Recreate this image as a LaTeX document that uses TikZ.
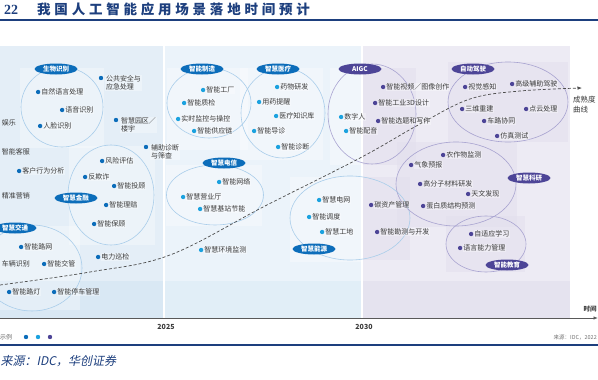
\documentclass[tikz,border=0pt]{standalone}
\usepackage{fontspec}
\setmainfont{Noto Sans CJK SC}
\newfontfamily\numfont{Liberation Serif}
\newfontfamily\ttlfont[LetterSpace=28]{Noto Sans CJK SC}
\newfontfamily\srcfont[FakeSlant=0.2]{Noto Sans CJK SC}
\usetikzlibrary{positioning,calc,shapes.geometric,arrows.meta}

\definecolor{navy}{HTML}{1D3F7E}
\definecolor{tagA}{HTML}{0C6DBA}
\definecolor{tagP}{HTML}{4D4597}
\definecolor{dotB}{HTML}{1CA2DF}
\definecolor{ringA}{HTML}{A9CDEA}
\definecolor{ringP}{HTML}{A8A3D0}
\definecolor{txt}{HTML}{3A3A3A}
\definecolor{panA}{HTML}{E4EEF7}
\definecolor{panAlo}{HTML}{D9E8F4}
\definecolor{panB}{HTML}{EBF3FA}
\definecolor{panBlo}{HTML}{E1EEF7}
\definecolor{panC}{HTML}{EDEBF4}
\definecolor{panClo}{HTML}{E5E3EF}
\definecolor{patchC}{HTML}{E3E0EE}

\tikzset{
  itm/.style={anchor=west, inner sep=0.6pt, text=txt, font=\fontsize{7}{8}\selectfont,
    fill=white, fill opacity=.3, text opacity=1, label distance=1.2pt},
  spotA/.style={circle, fill=tagA, fill opacity=1, minimum size=4.4pt, inner sep=0pt},
  spotB/.style={spotA, fill=dotB},
  spotP/.style={spotA, fill=tagP},
  ia/.style={itm, label={[spotA]left:}},
  ib/.style={itm, label={[spotB]left:}},
  ip/.style={itm, label={[spotP]left:}},
  bare/.style={anchor=west, inner sep=0.6pt, text=txt, font=\fontsize{7}{8}\selectfont},
  ringA/.style={ellipse, draw=ringA, line width=.6pt, inner sep=0pt},
  ringP/.style={ringA, draw=ringP},
  tagA/.style={ellipse, fill=tagA, text=white, font=\bfseries\fontsize{6.5}{7}\selectfont,
    minimum width=43pt, minimum height=11pt, inner sep=0pt},
  tagP/.style={tagA, fill=tagP},
  patch/.style={fill=white, fill opacity=.3},
  patchP/.style={fill=patchC, fill opacity=.6},
  trend/.style={densely dashed, line width=.7pt, draw=black!70, -{Latex[length=4.5pt,width=3.5pt]}},
}

\begin{document}
\begin{tikzpicture}[x=1pt, y=-1pt, every node/.style={inner sep=0pt}]
  \useasboundingbox (0,0) rectangle (598,380);
  \fill[white] (0,0) rectangle (598,380);

  % title
  \node[anchor=west, text=navy, font=\numfont\bfseries\fontsize{14}{15}\selectfont] (num) at (4,9.5) {22};
  \node[anchor=west, text=navy, font=\ttlfont\bfseries\fontsize{13.5}{15}\selectfont] (ttl) at (37,9.5) {我国人工智能应用场景落地时间预计};
  \draw[navy, line width=1.3pt] (0,20) -- (598,20);

  % panels
  \fill[panA] (0,46) rectangle (164,318);
  \fill[panAlo] (0,281) rectangle (164,318);
  \fill[panB] (164,46) rectangle (362,318);
  \fill[panBlo] (164,281) rectangle (362,318);
  \fill[panC] (362,46) rectangle (570,318);
  \fill[panClo] (362,281) rectangle (570,318);
  \path[patch] (20,68) rectangle (104,148);
  \path[patch] (69,146) rectangle (155,245);
  \path[patch] (0,226) rectangle (80,310);
  \path[patch] (167,68) rectangle (248,150);
  \path[patch] (240,68) rectangle (323,160);
  \path[patch] (166,165) rectangle (262,226);
  \path[patch] (290,177) rectangle (362,262);
  \path[patch] (330,68) rectangle (362,165);
  \path[patchP] (362,68) rectangle (416,165);
  \path[patchP] (448,62) rectangle (568,142);
  \path[patchP] (397,142) rectangle (517,227);
  \path[patchP] (446,216) rectangle (525,272);
  \path[patchP] (362,177) rectangle (410,260);
  \draw[white, line width=1.2pt] (164,46) -- (164,318);
  \draw[white, line width=1.2pt] (362,46) -- (362,318);

  % rings
  \node[ringA, minimum width=82pt, minimum height=80pt] (bioR) at (62,107) {};
  \node[ringA, minimum width=86pt, minimum height=100pt] (finR) at (111,195) {};
  \node[ringA, minimum width=100pt, minimum height=86pt] (trfR) at (32,268) {};
  \node[ringA, minimum width=84pt, minimum height=70pt] (mfgR) at (209,103) {};
  \node[ringA, minimum width=84pt, minimum height=90pt] (medR) at (283,113) {};
  \node[ringA, minimum width=97pt, minimum height=60pt] (telR) at (215,195) {};
  \node[ringA, minimum width=120pt, minimum height=84pt] (engR) at (350,218) {};
  \node[ringP, minimum width=88pt, minimum height=100pt] (aigcR) at (372,114) {};
  \node[ringP, minimum width=120pt, minimum height=80pt] (adsR) at (508,102) {};
  \node[ringP, minimum width=120pt, minimum height=84pt] (sciR) at (456,184) {};
  \node[ringP, minimum width=80pt, minimum height=56pt] (eduR) at (486,244) {};

  % maturity curve
  \coordinate (cs) at (0,285);
  \coordinate (ce) at (582,88);
  \draw[trend] plot[smooth, tension=.6] coordinates {(cs) (90,272) (170,255) (265,206) (360,158) (420,124) (470,99) (520,91) (ce)};
  \node[anchor=north west, align=left, text=txt, font=\fontsize{7.5}{10}\selectfont] (curveTxt) at (573,96) {成熟度\\曲线};

  % panel 1
  \node[ia] (zryy) at (40.5,92) {自然语言处理};
  \node[ia] (yysb) at (64.5,110) {语音识别};
  \node[ia] (rlsb) at (42.5,126) {人脸识别};
  \node[spotA] (ggS) at (101,78) {};
  \node[itm, align=left, right=1.8pt of ggS, yshift=-5pt] (ggaq) {公共安全与\\应急处理};
  \node[spotA] (yqS) at (116,120) {};
  \node[itm, align=left, right=1.8pt of yqS, yshift=-5pt] (zhyq) {智慧园区／\\楼宇};
  \node[spotA] (fzS) at (146,147) {};
  \node[itm, align=left, right=1.8pt of fzS, yshift=-5pt] (fzzd) {辅助诊断\\与筛查};
  \node[bare] (yl) at (1,123) {娱乐};
  \node[bare] (zncs) at (1,152) {智能客服};
  \node[ia] (khxw) at (21.5,171) {客户行为分析};
  \node[bare] (jzyx) at (1,196) {精准营销};
  \node[ia] (fxpg) at (104.5,161) {风险评估};
  \node[ia] (fqz) at (87.5,177) {反欺诈};
  \node[ia] (zntg) at (116.5,186) {智能投顾};
  \node[ia] (znlp) at (108.5,205) {智能理赔};
  \node[ia] (znbg) at (96.5,224) {智能保顾};
  \node[ia] (znlw) at (23.5,247) {智能路网};
  \node[bare] (clsb) at (1,264) {车辆识别};
  \node[ia] (znjg) at (46.5,264) {智能交管};
  \node[ia] (znld) at (11.5,292) {智能路灯};
  \node[ia] (zntc) at (56.5,292) {智能停车管理};
  \node[ia] (dlxj) at (100.5,257) {电力巡检};

  % panel 2
  \node[ib] (zngc) at (205.5,90) {智能工厂};
  \node[ib] (znzj) at (186.5,103) {智能质检};
  \node[ib] (ssjk) at (180.5,119) {实时监控与操控};
  \node[ib] (zngy) at (196.5,131) {智能供应链};
  \node[ib] (ywyf) at (279.5,87) {药物研发};
  \node[ib] (yytx) at (261.5,102) {用药提醒};
  \node[ib] (ylzs) at (278.5,116) {医疗知识库};
  \node[ib] (zndz) at (256.5,131) {智能导诊};
  \node[ib] (znzd) at (280.5,147) {智能诊断};
  \node[ib] (znwl) at (221.5,182) {智能网络};
  \node[ib] (zhyy) at (185.5,197) {智慧营业厅};
  \node[ib] (jzjn) at (202.5,209) {智慧基站节能};
  \node[ib] (hjjc) at (203.5,250) {智慧环境监测};
  \node[ib] (zhdw) at (321.5,200) {智慧电网};
  \node[ib] (znds) at (311.5,217) {智能调度};
  \node[ib] (zhgd) at (324.5,232) {智慧工地};
  \node[ib] (szr) at (343.5,117) {数字人};
  \node[ib] (znpy) at (348.5,131) {智能配音};

  % panel 3
  \node[ip] (spcz) at (385.5,87) {智能视频／图像创作};
  \node[ip] (gysj) at (377.5,103) {智能工业3D设计};
  \node[ip] (xtxz) at (380.5,121) {智能选题和写作};
  \node[ip] (tzcg) at (373.5,205) {碳资产管理};
  \node[ip] (kcky) at (379.5,232) {智能勘测与开发};
  \node[ip] (sjgz) at (467.5,87) {视觉感知};
  \node[ip] (gjfz) at (514.5,84) {高级辅助驾驶};
  \node[ip] (swcj) at (464.5,109) {三维重建};
  \node[ip] (dycl) at (528.5,109) {点云处理};
  \node[ip] (clxt) at (486.5,121) {车路协同};
  \node[ip] (fzcs) at (499.5,136) {仿真测试};
  \node[ip] (nzjc) at (445.5,155) {农作物监测};
  \node[ip] (qxyb) at (413.5,165) {气象预报};
  \node[ip] (gfcl) at (422.5,184) {高分子材料研发};
  \node[ip] (twfx) at (470.5,194) {天文发现};
  \node[ip] (dbzj) at (425.5,206) {蛋白质结构预测};
  \node[ip] (zsyx) at (473.5,234) {自适应学习};
  \node[ip] (yynl) at (462.5,248) {语言能力管理};

  % tags
  \node[tagA] (bio) at (56,69) {生物识别};
  \node[tagA] (fin) at (76,198) {智慧金融};
  \node[tagA] (trf) at (15,228) {智慧交通};
  \node[tagA] (mfg) at (202,69) {智能制造};
  \node[tagA] (med) at (278,69) {智慧医疗};
  \node[tagA] (tel) at (224,163) {智慧电信};
  \node[tagA] (eng) at (314,249) {智慧能源};
  \node[tagP] (aigc) at (360,69) {AIGC};
  \node[tagP] (ads) at (473,69) {自动驾驶};
  \node[tagP] (sci) at (529,178) {智慧科研};
  \node[tagP] (edu) at (507,265) {智能教育};

  % time axis
  \coordinate (ax0) at (0,318);
  \coordinate (ax1) at (598,318);
  \draw[black!65, line width=.8pt, -{Latex[length=4.5pt,width=3.5pt]}] (ax0) -- (ax1);
  \node[text=txt, font=\bfseries\fontsize{7}{8}\selectfont] (y25) at (166,327) {2025};
  \node[text=txt, font=\bfseries\fontsize{7}{8}\selectfont] (y30) at (364,327) {2030};
  \node[text=txt, font=\bfseries\fontsize{6.5}{7}\selectfont] (sj) at (590,309) {时间};

  % legend and source
  \node[anchor=west, text=black!60, font=\fontsize{6}{7}\selectfont] (lg) at (0,337) {示例};
  \node[spotA] (lgA) at (26,337) {};
  \node[spotB] (lgB) at (38,337) {};
  \node[spotP] (lgP) at (50,337) {};
  \node[anchor=east, text=black!55, font=\fontsize{5.5}{6}\selectfont] (ly) at (597,337) {来源：IDC，2022};
  \draw[navy, line width=1.2pt] (0,345) -- (598,345);
  \node[anchor=west, text=navy, font=\srcfont\fontsize{12}{13}\selectfont] (src) at (0.5,361) {来源：IDC，华创证券};
\end{tikzpicture}
\end{document}
